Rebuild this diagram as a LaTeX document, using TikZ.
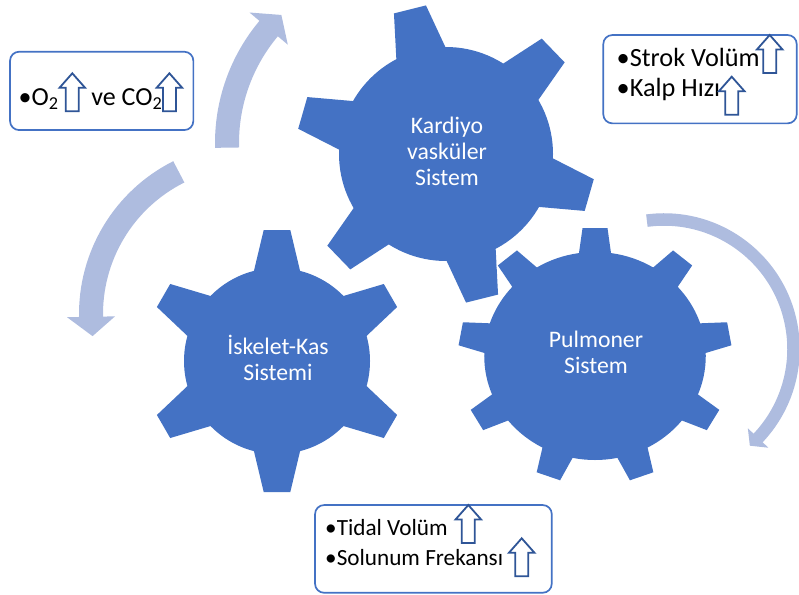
\documentclass[tikz,border=0pt]{standalone}
\usepackage{fontspec}
\setmainfont{Carlito}
\usetikzlibrary{calc}
\definecolor{gearblue}{HTML}{4472C4}
\definecolor{arrowlight}{RGB}{174,188,223}
\definecolor{symblue}{HTML}{2F5597}
% #1 style, #2 body radius, #3 tooth root radius, #4 tip radius, #5 root half-width, #6 tip half-width, #7 tooth angles
\newcommand\drawgear[7]{%
  \path[#1] (0,0) circle (#2);
  \foreach \a in {#7}{%
    \path[#1,rotate=\a] (#3,-#5) -- (#4,-#6) -- (#4,#6) -- (#3,#5) -- cycle;
  }%
}
\newcommand\uparrowsym[2]{%
  \draw[uparr] (#1,-#2) -- ++(12.8,-14.5) -- ++(-6.3,0) -- ++(0,-23.5) -- ++(-13,0) -- ++(0,23.5) -- ++(-6.3,0) -- cycle;
}
\begin{document}
\begin{tikzpicture}[x=1pt,y=1pt,
  gearedge/.style={fill=white, draw=white, line width=3pt, line join=round},
  gearfill/.style={fill=gearblue},
  geartext/.style={text=white, align=center, inner sep=0pt, font=\fontsize{23.7}{26}\selectfont},
  infobox/.style={draw=gearblue, line width=1.7pt, rounded corners=9pt, fill=white, inner sep=0pt},
  boxtext/.style={anchor=base west, inner sep=0pt, text=black},
  curvearrow/.style={draw=arrowlight, line cap=butt},
  arrowtip/.style={fill=arrowlight},
  uparr/.style={draw=symblue, fill=white, line width=1.8pt, line join=miter}
]
\useasboundingbox (0,0) rectangle (799,-594);

% curved arrows
\coordinate (c1) at (405,-143);
\coordinate (c2) at (250,-314);
\coordinate (c3) at (664,-349);
\draw[curvearrow, line width=24pt] ($(c1)+(181.5:178)$) arc[start angle=181.5, end angle=139.6, radius=178];
\fill[arrowtip] ($(c1)+(140:153)$) -- ($(c1)+(140:203)$) -- ($(c1)+(134:178)$) -- cycle;
\draw[curvearrow, line width=24pt] ($(c2)+(116.6:159)$) arc[start angle=116.6, end angle=181.4, radius=159];
\fill[arrowtip] ($(c2)+(181:135)$) -- ($(c2)+(181:183)$) -- ($(c2)+(188:159)$) -- cycle;
\draw[curvearrow, line width=12.5pt] ($(c3)+(97.6:129.5)$) arc[start angle=97.6, end angle=-43.8, radius=129.5];
\fill[arrowtip] ($(c3)+(-43.4:115.4)$) -- ($(c3)+(-43.4:143.7)$) -- ($(c3)+(-48.4:129.3)$) -- cycle;

% gears
\begin{scope}[shift={(446,-154)}]
  \drawgear{gearedge}{107}{95}{149}{27}{16.5}{104,44,-16,-76,-136,164}
  \drawgear{gearfill}{107}{95}{149}{27}{16.5}{104,44,-16,-76,-136,164}
\end{scope}
\begin{scope}[shift={(595,-356)}, xscale=1.065]
  \drawgear{gearedge}{104}{92}{128}{16.5}{11.7}{90,50,10,-30,-70,-110,-150,170,130}
  \drawgear{gearfill}{104}{92}{128}{16.5}{11.7}{90,50,10,-30,-70,-110,-150,170,130}
\end{scope}
\begin{scope}[shift={(277,-361)}]
  \drawgear{gearedge}{93}{82}{131}{25}{13.3}{90,30,-30,-90,-150,150}
  \drawgear{gearfill}{93}{82}{131}{25}{13.3}{90,30,-30,-90,-150,150}
\end{scope}

\node[geartext] (kardiyo) at (447,-151) {Kardiyo\\vasküler\\Sistem};
\node[geartext] (iskelet) at (278,-358) {İskelet-Kas\\Sistemi};
\node[geartext] (pulmoner) at (596,-352.5) {Pulmoner\\Sistem};

% boxes
\node[infobox, minimum width=183.3pt, minimum height=78.3pt] (box1) at (101.7,-90.9) {};
\node[infobox, minimum width=193.4pt, minimum height=88.3pt] (box2) at (700,-79.2) {};
\node[infobox, minimum width=236.7pt, minimum height=87.7pt] (box3) at (433.4,-548.9) {};

\node[boxtext, font=\fontsize{26}{30}\selectfont] (o2) at (18.5,-105.7) {•O\textsubscript{2}};
\node[boxtext, font=\fontsize{26}{30}\selectfont] (co2) at (91.2,-105.7) {ve CO\textsubscript{2}};
\node[boxtext, font=\fontsize{26.3}{30}\selectfont] (strok) at (616.5,-66.7) {•Strok Volüm};
\node[boxtext, font=\fontsize{26.3}{30}\selectfont] (kalp) at (616.5,-96.7) {•Kalp Hızı};
\node[boxtext, font=\fontsize{23.2}{28}\selectfont] (tidal) at (325,-535) {•Tidal Volüm};
\node[boxtext, font=\fontsize{23.2}{28}\selectfont] (solunum) at (325,-565) {•Solunum Frekansı};

\uparrowsym{72.3}{73.3}
\uparrowsym{169.4}{73.3}
\uparrowsym{769.7}{35}
\uparrowsym{731.7}{76.7}
\uparrowsym{468.3}{505}
\uparrowsym{521.7}{538.3}
\end{tikzpicture}
\end{document}
